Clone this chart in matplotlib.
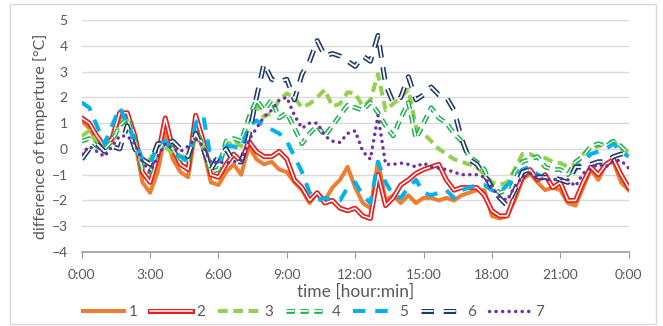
import matplotlib
matplotlib.use("Agg")
import matplotlib.pyplot as plt
import matplotlib.patheffects as pe
from matplotlib.patches import Rectangle
import numpy as np

plt.rcParams['font.family'] = ['Lato', 'DejaVu Sans']
plt.rcParams['lines.scale_dashes'] = False

# time axis: every 20 minutes, 0:00 .. 24:00 (hours)
hours = [i / 3 for i in range(73)]

s1 = [1.1, 0.8, 0.3, 0.0, 0.3, 1.2, 1.3, 0.3, -1.3, -1.7, -0.9, 0.6, -0.4, -0.9, -1.1, 0.7, 0.0, -1.3, -1.4, -0.9,
      -0.6, -1.0, 0.1, -0.4, -0.6, -0.5, -0.8, -0.9, -1.3, -1.6, -2.1, -1.7, -2.0, -1.5, -1.2, -0.7, -1.5, -2.1, -2.3, -0.5,
      -2.0, -1.8, -2.1, -1.8, -2.1, -1.9, -1.9, -2.0, -1.9, -2.0, -1.8, -1.7, -1.6, -1.6, -2.6, -2.7, -2.6, -2.0, -1.2, -0.95,
      -1.3, -1.6, -1.5, -1.6, -2.1, -2.2, -1.5, -0.8, -1.2, -0.6, -0.5, -1.3, -1.6]
s2 = [1.2, 1.0, 0.5, 0.1, 0.4, 1.4, 1.4, 0.5, -0.9, -1.3, -0.3, 1.2, 0.0, -0.6, -0.8, 1.3, 0.3, -1.0, -1.1, -0.6,
      -0.2, -0.5, 0.3, -0.1, -0.3, -0.3, -0.1, -0.4, -1.2, -1.5, -2.0, -1.7, -2.1, -2.0, -2.3, -2.4, -2.3, -2.6, -2.7, -1.0,
      -2.2, -1.9, -1.4, -1.2, -0.95, -0.8, -0.7, -0.6, -1.2, -1.6, -1.5, -1.5, -1.5, -1.8, -2.4, -2.6, -2.6, -1.8, -1.1, -0.8,
      -1.2, -1.0, -1.5, -1.3, -2.0, -2.0, -1.3, -0.7, -1.0, -0.6, -0.4, -1.0, -1.5]
s3 = [0.5, 0.7, 0.2, 0.1, 0.35, 0.9, 1.1, 0.2, -0.7, -0.4, 0.2, 0.1, -0.2, -0.3, -0.3, 0.6, 0.1, -0.55, -0.55, 0.1,
      0.35, 0.1, 1.25, 1.65, 1.25, 1.4, 1.9, 2.15, 2.0, 1.6, 1.75, 2.0, 2.3, 1.65, 1.75, 2.2, 2.15, 1.65, 1.9, 2.9,
      1.5, 1.75, 2.0, 2.3, 0.85, 0.6, 0.3, 0.0, -0.2, -0.4, -0.5, -0.6, -0.7, -1.0, -1.3, -1.4, -1.3, -0.8, -0.2, -0.2,
      -0.35, -0.35, -0.5, -0.55, -0.7, -0.6, -0.2, 0.05, 0.1, 0.25, 0.3, 0.0, -0.1]
s4 = [0.3, 0.4, 0.1, 0.0, 0.3, 0.9, 1.2, 0.3, -0.8, -0.9, -0.1, 0.3, 0.0, -0.4, -0.5, 0.8, 0.1, -0.9, -0.8, 0.3,
      0.4, 0.3, 1.2, 1.9, 1.5, 1.9, 1.2, 1.4, 0.8, 0.2, 0.6, 0.9, 0.5, 0.9, 1.3, 1.7, 1.6, 1.5, 1.8, 1.4,
      0.9, 0.5, 1.2, 1.8, 0.4, 1.0, 1.6, 1.2, 1.0, 0.6, 0.3, -0.3, -0.5, -0.8, -1.5, -1.7, -1.6, -0.9, -0.5, -0.4,
      -0.3, -0.7, -0.8, -0.8, -1.0, -0.5, -0.3, 0.1, 0.2, 0.1, 0.3, 0.1, -0.2]
s5 = [1.8, 1.6, 0.9, 0.2, 0.9, 1.6, 1.0, 0.3, -0.4, -0.6, 0.2, 0.3, -0.1, -0.3, -0.5, 1.0, 1.3, -0.4, -0.5, 0.1,
      0.1, 0.0, 0.9, 1.1, 0.9, 0.75, 0.6, 0.3, -0.3, -0.9, -1.7, -2.0, -1.9, -2.0, -2.0, -1.5, -1.3, -1.8, -2.1, -0.5,
      -1.3, -1.8, -1.9, -1.5, -1.2, -1.7, -1.8, -1.7, -1.6, -1.9, -1.6, -1.5, -1.4, -1.4, -1.6, -1.7, -1.4, -1.2, -0.8, -0.7,
      -1.0, -1.1, -1.15, -1.2, -1.3, -0.8, -0.5, -0.2, -0.1, 0.0, 0.2, -0.1, -0.3]
s6 = [-0.4, 0.0, 0.2, -0.1, 0.1, 0.0, 0.9, 0.0, -0.4, -0.6, 0.2, 0.2, 0.3, 0.0, -0.3, 0.6, 0.0, -0.8, -0.3, 0.0,
      -0.5, -0.5, 0.5, 2.0, 3.3, 2.7, 2.6, 2.7, 1.9, 2.9, 3.4, 4.2, 3.6, 3.7, 3.6, 3.4, 3.2, 3.6, 3.4, 4.4,
      2.5, 1.8, 2.0, 2.8, 1.9, 2.1, 2.4, 2.1, 2.0, 1.5, 0.4, -0.4, -0.6, -1.0, -1.5, -1.9, -2.2, -1.6, -0.9, -0.8,
      -1.1, -1.1, -1.1, -1.2, -1.3, -0.7, -0.7, -0.6, -0.5, -0.5, -0.3, -0.2, -0.2]
s7 = [-0.2, 0.1, -0.1, -0.3, 0.1, 0.5, 0.5, 0.2, -0.5, -0.9, -0.3, 0.2, 0.0, -0.1, 0.1, 0.4, 0.1, -0.55, -0.5, -0.55,
      -0.5, -0.45, 0.35, 0.8, 1.25, 1.5, 1.9, 2.0, 1.3, 0.8, 1.0, 1.0, 0.5, 0.3, 0.25, 0.6, 0.7, -0.1, -0.4, 1.3,
      -0.6, -0.6, -0.55, -0.6, -0.7, -0.55, -0.7, -0.75, -0.8, -0.9, -1.0, -1.0, -1.0, -1.1, -1.5, -1.85, -2.0, -1.45, -1.1, -0.95,
      -1.1, -1.2, -1.2, -1.15, -1.2, -1.45, -0.95, -0.75, -0.6, -0.7, -0.45, -0.45, -0.75]

labels = ['1', '2', '3', '4', '5', '6', '7']
xticks = [0, 3, 6, 9, 12, 15, 18, 21, 24]
xticklabels = ['0:00', '3:00', '6:00', '9:00', '12:00', '15:00', '18:00', '21:00', '0:00']
yticks = [-4, -3, -2, -1, 0, 1, 2, 3, 4, 5]

fig = plt.figure(figsize=(6.63, 3.26), dpi=100)
ax = fig.add_axes([81.7 / 663, 1 - 252 / 326, (628.7 - 81.7) / 663, (252 - 20) / 326])

ax.plot(hours, s1, color='#ED7D31', lw=2.9, solid_joinstyle='round', label=labels[0])
ax.plot(hours, s2, color='white', lw=1.1, solid_joinstyle='round', label=labels[1],
        path_effects=[pe.Stroke(linewidth=3.6, foreground='#E4201E'), pe.Normal()])
ax.plot(hours, s3, color='#92D050', lw=2.9, dashes=(7, 4), label=labels[2])
ax.plot(hours, s4, color='white', lw=1.2, dashes=(6, 4), label=labels[3],
        path_effects=[pe.Stroke(linewidth=3.4, foreground='#1DB050'), pe.Normal()])
ax.plot(hours, s5, color='#00B0F0', lw=2.9, dashes=(9, 7), label=labels[4])
ax.plot(hours, s6, color='white', lw=1.3, dashes=(9, 7), label=labels[5],
        path_effects=[pe.Stroke(linewidth=3.6, foreground='#203864'), pe.Normal()])
ax.plot(hours, s7, color='#7030A0', lw=2.5, dashes=(0.1, 4.6), dash_capstyle='round', label=labels[6])

ax.set_xlim(0, 24)
ax.set_ylim(-4, 5)
ax.set_yticks(yticks)
ax.set_xticks(xticks)
ax.set_xticklabels(xticklabels)
ax.grid(axis='y', color='#d9d9d9', lw=1)
ax.set_axisbelow(True)
for sp in ['top', 'right', 'left']:
    ax.spines[sp].set_visible(False)
ax.spines['bottom'].set_color('#9a9a9a')
ax.spines['bottom'].set_linewidth(1.2)
ax.tick_params(axis='y', length=0, labelsize=10, labelcolor='#595959', pad=10)
ax.tick_params(axis='x', length=4, color='#9a9a9a', labelsize=10, labelcolor='#595959', pad=8)

ax.set_ylabel('difference of temperture [°C]', fontsize=11.5, color='#595959', labelpad=3)
ax.set_xlabel('time [hour:min]', fontsize=12.5, color='#595959', labelpad=2)

leg = fig.legend(loc='center left', bbox_to_anchor=(72 / 663, 1 - 312 / 326), ncol=7, frameon=False,
                 fontsize=11, handlelength=2.7, columnspacing=0.85, handletextpad=0.3, borderpad=0.2)
for t in leg.get_texts():
    t.set_color('#595959')

fig.patches.append(Rectangle((10 / 663, 2 / 326), 646 / 663, 320 / 326, transform=fig.transFigure,
                             fill=False, edgecolor='#d9d9d9', lw=1))

fig.savefig('out.png', dpi=100)
